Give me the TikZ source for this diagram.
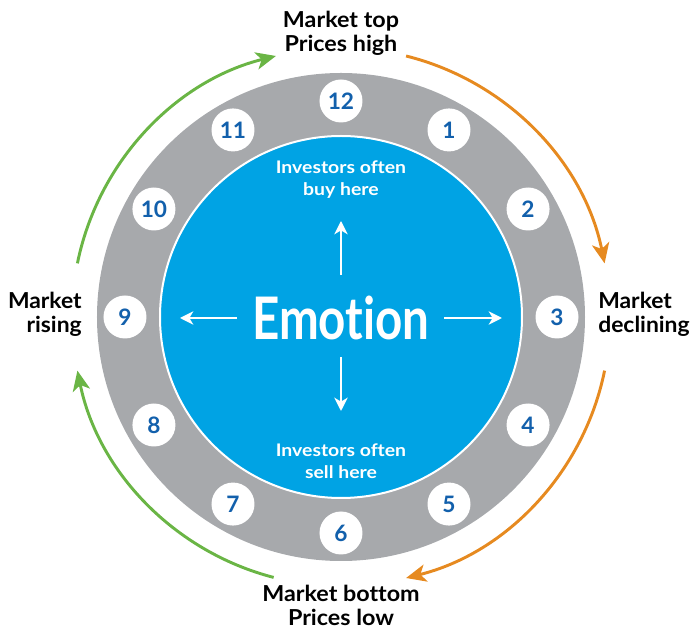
\documentclass[tikz,border=0pt]{standalone}
\usepackage{fontspec}
\setmainfont{Lato}[Ligatures=NoCommon]
\usetikzlibrary{arrows.meta}
\definecolor{ringgray}{RGB}{167,169,172}
\definecolor{emoblue}{RGB}{0,163,228}
\definecolor{numblue}{RGB}{18,96,172}
\definecolor{arrorange}{RGB}{230,138,32}
\definecolor{arrgreen}{RGB}{106,181,69}
\newcommand{\stretchtxt}[3]{\scalebox{#1}[1]{\begin{tabular}{@{}#2@{}}#3\end{tabular}}}
\tikzset{
  numcirc/.style={circle,fill=white,minimum size=32.25pt,inner sep=0pt,text=numblue,font=\bfseries\fontsize{17}{17}\selectfont},
  outlabel/.style={font=\bfseries\fontsize{16.5}{18}\selectfont,text=black,inner sep=0pt},
  innerlabel/.style={font=\bfseries\fontsize{13}{16.5}\selectfont,text=white,inner sep=0pt}
}
\tikzset{
  cyclearrow/.style={line width=2.2pt,-{Stealth[length=15pt,width=13pt,inset=4pt]}},
  whitearrow/.style={white,line width=1.5pt,-{Stealth[length=10pt,width=10pt,inset=3pt]}}
}
\begin{document}
\begin{tikzpicture}[x=0.75pt,y=0.75pt]
\useasboundingbox (-341,317) rectangle (352,-314);
% rings
\fill[ringgray] (0,0) circle (244);
\fill[emoblue,draw=white,line width=1.5pt] (0,0) circle (181);
% numbers
\foreach \k in {1,...,12}{
  \node[numcirc] (n\k) at ({90-30*\k}:216) {\k};
}
% center text
\node[font=\bfseries\fontsize{44}{44}\selectfont,text=white,inner sep=0pt] (emo) at (0,-1) {\scalebox{0.81}[1]{Emotion}};
\node[innerlabel] (buy) at (0,137) {\stretchtxt{1.12}{c}{Investors often\\buy here}};
\node[innerlabel] (sell) at (0,-146) {\stretchtxt{1.12}{c}{Investors often\\sell here}};
% inner arrows
\coordinate (ua) at (0,42); \coordinate (ub) at (0,96);
\coordinate (da) at (0,-40); \coordinate (db) at (0,-94);
\coordinate (la) at (-104,-1); \coordinate (lb) at (-161,-1);
\coordinate (ra) at (103,-1); \coordinate (rb) at (161,-1);
\draw[whitearrow] (ua) -- (ub);
\draw[whitearrow] (da) -- (db);
\draw[whitearrow] (la) -- (lb);
\draw[whitearrow] (ra) -- (rb);
% outer labels
\node[outlabel] (top) at (0,282) {\stretchtxt{1.06}{c}{Market top\\Prices high}};
\node[outlabel] (bottom) at (0,-292) {\stretchtxt{1.06}{c}{Market bottom\\Prices low}};
\node[outlabel,anchor=east] (left) at (-259,1) {\stretchtxt{1.04}{r}{Market\\rising}};
\node[outlabel,anchor=west] (right) at (257,1) {\stretchtxt{1.04}{l}{Market\\declining}};
% cycle arrows
\draw[cyclearrow,arrorange] (76:269) arc[start angle=76,end angle=11.5,radius=269];
\draw[cyclearrow,arrorange] (-11.5:269) arc[start angle=-11.5,end angle=-76,radius=269];
\draw[cyclearrow,arrgreen] (-104.5:269) arc[start angle=-104.5,end angle=-168.5,radius=269];
\draw[cyclearrow,arrgreen] (168.5:269) arc[start angle=168.5,end angle=104,radius=269];
\end{tikzpicture}
\end{document}
